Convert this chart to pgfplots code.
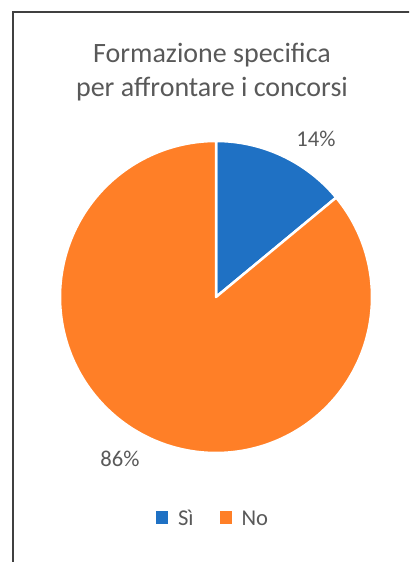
\documentclass[border=0pt]{standalone}
\usepackage{fontspec}
\setmainfont{Carlito}
\usepackage{pgfplots}
\pgfplotsset{compat=1.18}
\definecolor{cSi}{HTML}{1F71C4}
\definecolor{cNo}{HTML}{FF7F27}
\definecolor{ctext}{HTML}{595959}
\definecolor{cframe}{HTML}{404040}

% share values (percent)
\def\valSi{14}
\def\valNo{86}

\begin{document}
\begin{tikzpicture}
	% one axis unit = one pixel of the reference (409 x 562)
	\begin{axis}[
			hide axis,
			scale only axis,
			width=204.5pt, height=281pt,
			xmin=0, xmax=409, ymin=0, ymax=562,
			legend columns=2,
			legend image code/.code={\fill[#1] (0pt,1pt) rectangle (6pt,7.5pt);},
			legend style={
					draw=none, fill=none, inner sep=0pt, outer sep=0pt,
					at={(axis cs:156,33)}, anchor=south west,
					nodes={inner sep=0pt, anchor=base west, text=ctext,
							font=\fontsize{11.3}{13.5}\selectfont},
					/tikz/every odd column/.append style={column sep=5pt},
					/tikz/every even column/.append style={column sep=13pt},
				},
		]
		\path (rel axis cs:0,0) rectangle (rel axis cs:1,1);

		\pgfmathsetmacro{\aStart}{90}
		\pgfmathsetmacro{\aMid}{90-3.6*\valSi}
		\pgfmathsetmacro{\aEnd}{\aMid-3.6*\valNo}

		% slices
		\addplot[fill=cSi, draw=white, line width=1.25pt, line join=round,
			domain=\aMid:\aStart, samples=60, forget plot]
		({216+156*cos(x)}, {265+156*sin(x)}) -- (axis cs:216,265) -- cycle;
		\addplot[fill=cNo, draw=white, line width=1.25pt, line join=round,
			domain=\aEnd:\aMid, samples=200, forget plot]
		({216+156*cos(x)}, {265+156*sin(x)}) -- (axis cs:216,265) -- cycle;

		% frame of the chart area
		\draw[cframe, line width=0.7pt] (axis cs:13,-10) -- (axis cs:13,550) -- (axis cs:420,550);

		% title
		\node[anchor=base, text=ctext, font=\fontsize{14}{17}\selectfont, inner sep=0pt]
		at (axis cs:212,499) {Formazione specifica};
		\node[anchor=base, text=ctext, font=\fontsize{14}{17}\selectfont, inner sep=0pt]
		at (axis cs:212,465) {per affrontare i concorsi};

		% data labels
		\node[anchor=base, text=ctext, font=\fontsize{11.3}{13.5}\selectfont, inner sep=0pt]
		at (axis cs:316,415) {\valSi\%};
		\node[anchor=base, text=ctext, font=\fontsize{11.3}{13.5}\selectfont, inner sep=0pt]
		at (axis cs:120,95) {\valNo\%};

		\addlegendimage{fill=cSi, draw=none}
		\addlegendentry{Sì}
		\addlegendimage{fill=cNo, draw=none}
		\addlegendentry{No}
	\end{axis}
\end{tikzpicture}
\end{document}
